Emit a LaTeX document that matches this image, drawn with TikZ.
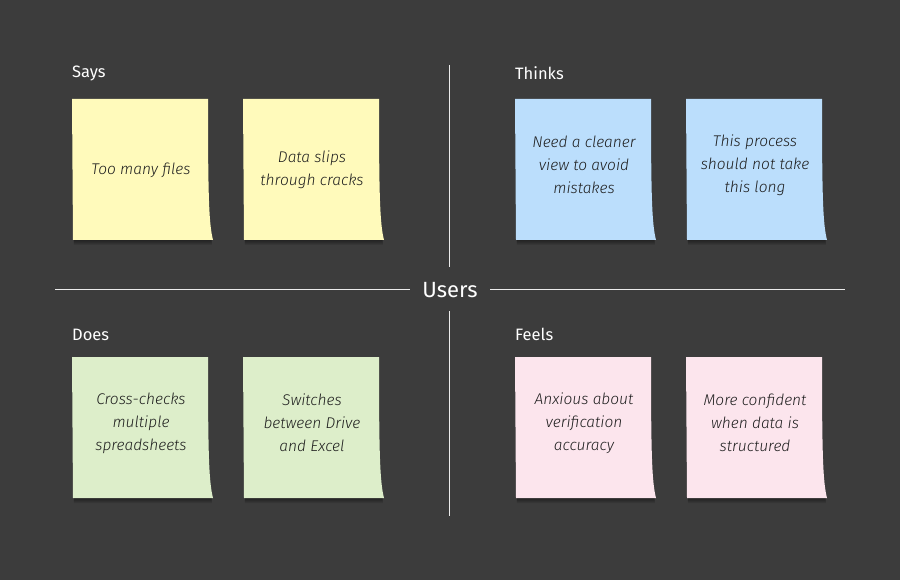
\documentclass[tikz,border=0pt]{standalone}
\usepackage{fontspec}
\setmainfont{Fira Sans}
\newfontfamily\headfont{Fira Sans}
\newfontfamily\notefont{Fira Sans Light Italic}
\usetikzlibrary{calc}
\definecolor{bg}{RGB}{60,60,60}
\definecolor{lineC}{RGB}{235,235,235}
\definecolor{noteY}{RGB}{255,250,187}
\definecolor{noteB}{RGB}{187,222,252}
\definecolor{noteG}{RGB}{221,238,202}
\definecolor{noteP}{RGB}{252,229,237}
\definecolor{inkC}{RGB}{30,30,30}
\newcommand{\notepath}[4]{% x y dx dy
  (#1+#3,#2+#4) -- (#1+136-#3,#2+#4) .. controls (#1+136-#3,#2+100) and (#1+137-#3,#2+125) .. (#1+141-#3,#2+141+#4) -- (#1+1+#3,#2+141+#4) -- cycle}
\newcommand{\stickynote}[6]{%
  % #1 name, #2 x, #3 y (top-left), #4 colour, #5 text, #6 text centre offset
  \foreach \d in {1,2,3,4,5}{\fill[black,opacity=0.09] \notepath{#2}{#3}{1}{\d};}
  \fill[#4] \notepath{#2}{#3}{0}{0};
  \node[notetext] (#1) at (#2+69,#3+#6) {#5};
}
\begin{document}
\begin{tikzpicture}[x=1pt,y=-1pt,
  heading/.style={anchor=west,text=white,font=\headfont\fontsize{16.5}{18}\selectfont,inner sep=0pt},
  notetext/.style={align=center,text=inkC,font=\notefont\fontsize{15.5}{23}\selectfont,inner sep=0pt},
  divider/.style={lineC,line width=1pt}]
\fill[bg] (0,0) rectangle (900,580);
\useasboundingbox (0,0) rectangle (900,580);
% dividers
\node[text=white,font=\headfont\fontsize{22}{24}\selectfont,inner sep=0pt] (users) at (450,290) {Users};
\coordinate (hl1) at (55,290);
\coordinate (hl2) at (410,290);
\coordinate (hr1) at (490,290);
\coordinate (hr2) at (845,290);
\coordinate (vt1) at (449,65);
\coordinate (vt2) at (449,267);
\coordinate (vb1) at (449,311);
\coordinate (vb2) at (449,516);
\draw[divider] (hl1) -- (hl2);
\draw[divider] (hr1) -- (hr2);
\draw[divider] (vt1) -- (vt2);
\draw[divider] (vb1) -- (vb2);
% headings
\node[heading] (says) at (72,73.5) {Says};
\node[heading] (thinks) at (515,73.5) {Thinks};
\node[heading] (does) at (72,334.5) {Does};
\node[heading] (feels) at (515,334.5) {Feels};
% notes
\stickynote{s1}{72}{99}{noteY}{Too many files}{71}
\stickynote{s2}{243}{99}{noteY}{Data slips\\through cracks}{71}
\stickynote{t1}{515}{99}{noteB}{Need a cleaner\\view to avoid\\mistakes}{66}
\stickynote{t2}{686}{99}{noteB}{This process\\should not take\\this long}{66}
\stickynote{d1}{72}{357}{noteG}{Cross-checks\\multiple\\spreadsheets}{66}
\stickynote{d2}{243}{357}{noteG}{Switches\\between Drive\\and Excel}{66}
\stickynote{f1}{515}{357}{noteP}{Anxious about\\verification\\accuracy}{66}
\stickynote{f2}{686}{357}{noteP}{More confident\\when data is\\structured}{66}
\end{tikzpicture}
\end{document}
